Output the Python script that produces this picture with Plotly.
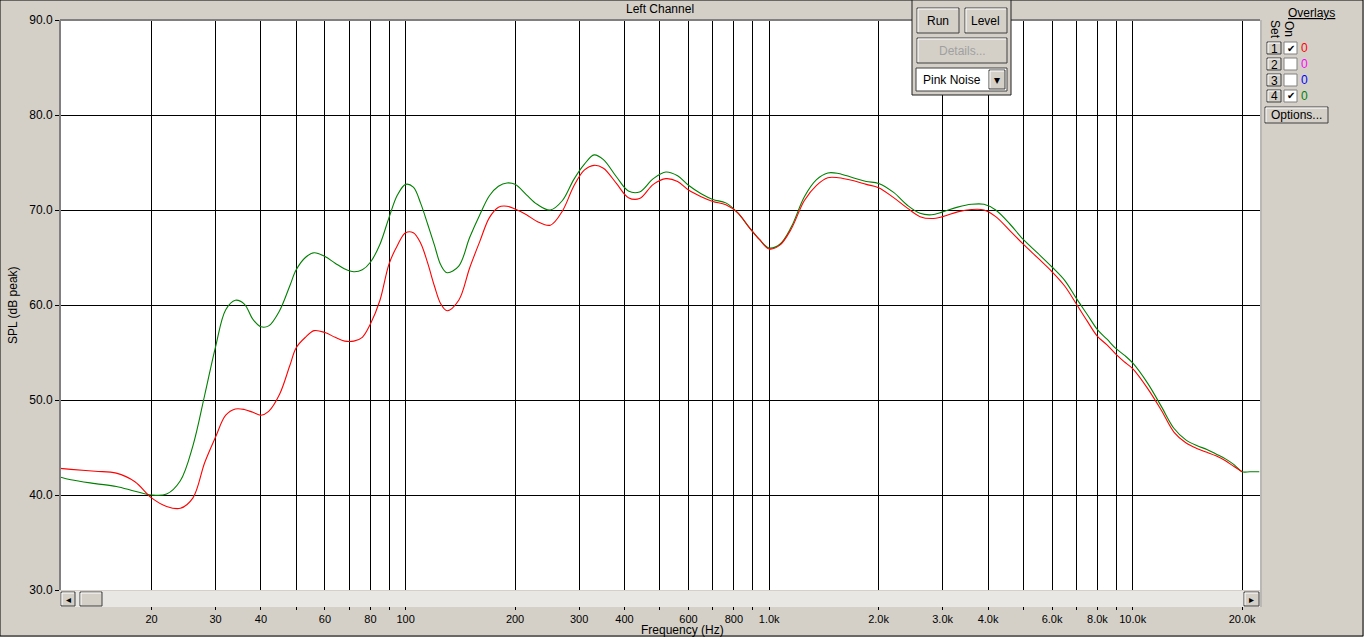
import numpy as np
import plotly.graph_objects as go

# ---------- data ----------
freq_green = [11.2, 12, 14, 16, 18, 20, 22, 24, 26, 28, 30, 32, 34, 36, 38, 40, 42, 45, 48, 50,
              53, 56, 60, 64, 68, 72, 76, 80, 85, 90, 95, 100, 105, 110, 115, 120, 125, 130, 140,
              150, 160, 170, 180, 190, 200, 215, 230, 250, 270, 290, 310, 330, 350, 380, 410, 440,
              480, 520, 560, 600, 650, 700, 760, 820, 880, 940, 1000, 1070, 1150, 1250, 1350, 1450,
              1550, 1700, 1850, 2000, 2200, 2400, 2600, 2800, 3000, 3300, 3600, 3900, 4200, 4600,
              5000, 5500, 6000, 6500, 7000, 7500, 8000, 8500, 9000, 9500, 10000, 11000, 12000,
              13000, 14000, 15000, 16000, 17000, 18000, 19000, 20000, 21000, 22300]
spl_green = [41.9, 41.6, 41.2, 40.9, 40.4, 40.0, 40.1, 41.5, 45.2, 50.5, 55.6, 59.5, 60.5, 60.1,
             58.5, 57.7, 57.8, 59.4, 62.0, 63.7, 65.0, 65.5, 65.1, 64.4, 63.8, 63.5, 63.7, 64.5,
             66.4, 69.2, 71.6, 72.7, 72.4, 70.7, 68.5, 66.3, 64.2, 63.4, 64.1, 67.1, 69.5, 71.5,
             72.5, 72.85, 72.7, 71.6, 70.6, 70.0, 71.0, 73.2, 74.8, 75.8, 75.3, 73.5, 72.0, 71.9,
             73.3, 74.0, 73.6, 72.6, 71.7, 71.1, 70.75, 69.7, 68.2, 66.9, 66.0, 66.4, 68.2, 71.4,
             73.2, 73.9, 73.85, 73.4, 73.0, 72.8, 71.85, 70.5, 69.65, 69.5, 69.8, 70.3, 70.6, 70.6,
             70.0, 68.5, 66.9, 65.4, 64.0, 62.6, 60.7, 59.0, 57.4, 56.4, 55.4, 54.7, 53.9, 51.75,
             49.3, 47.0, 45.8, 45.2, 44.8, 44.3, 43.8, 43.2, 42.45, 42.45, 42.45]

freq_red = freq_green[:-2]
spl_red = [42.8, 42.7, 42.5, 42.3, 41.4, 39.7, 38.8, 38.6, 39.7, 43.4, 46.1, 48.4, 49.05, 49.0,
           48.7, 48.4, 48.8, 50.6, 53.6, 55.5, 56.6, 57.3, 57.1, 56.6, 56.2, 56.2, 56.6, 58.0,
           60.5, 64.3, 66.3, 67.6, 67.6, 66.5, 64.4, 62.0, 60.1, 59.4, 60.5, 63.9, 66.7, 69.2,
           70.3, 70.4, 70.1, 69.5, 68.8, 68.4, 69.9, 72.5, 74.2, 74.7, 74.4, 72.8, 71.3, 71.2,
           72.7, 73.3, 73.0, 72.1, 71.4, 70.9, 70.55, 69.7, 68.2, 66.9, 65.9, 66.3, 68.0, 71.0,
           72.6, 73.4, 73.4, 73.1, 72.7, 72.35, 71.3, 70.2, 69.3, 69.1, 69.3, 69.8, 70.05, 70.0,
           69.3, 67.8, 66.4, 64.9, 63.5, 62.0, 60.1, 58.3, 56.7, 55.8, 54.8, 54.0, 53.3, 51.2,
           48.9, 46.6, 45.5, 44.9, 44.5, 44.1, 43.6, 43.0, 42.45]

x_ticks = [20, 30, 40, 50, 60, 70, 80, 90, 100, 200, 300, 400, 500, 600, 700, 800, 900,
           1000, 2000, 3000, 4000, 5000, 6000, 7000, 8000, 9000, 10000, 20000]
x_labels = ['20', '30', '40', '', '60', '', '80', '', '100', '200', '300', '400', '', '600', '',
            '800', '', '1.0k', '2.0k', '3.0k', '4.0k', '', '6.0k', '', '8.0k', '', '10.0k', '20.0k']
y_ticks = [30, 40, 50, 60, 70, 80, 90]
y_labels = ['30.0', '40.0', '50.0', '60.0', '70.0', '80.0', '90.0']

overlay_sets = ['1', '2', '3', '4']
overlay_on = [True, False, False, True]
overlay_colors = ['#ff0000', '#ff00ff', '#0000ff', '#008000']

# ---------- geometry helpers (pixels -> paper) ----------
W, H = 1364, 637
L, R, T, B = 60, 1260, 20, 590
GRAY = '#d4d0c8'
FONT = 'Liberation Sans'


def px(x):
    return (x - L) / (R - L)


def py(y):
    return (B - y) / (B - T)


shapes = []
annotations = []


def rect(x0, y0, x1, y1, fill=None, line='black', width=1):
    shapes.append(dict(type='rect', xref='paper', yref='paper', layer='above',
                       x0=px(x0), x1=px(x1), y0=py(y1), y1=py(y0),
                       fillcolor=fill if fill else 'rgba(0,0,0,0)',
                       line=dict(color=line, width=width if line else 0)))


def hline(x0, x1, y, color, width=1):
    shapes.append(dict(type='line', xref='paper', yref='paper', layer='above',
                       x0=px(x0), x1=px(x1), y0=py(y), y1=py(y),
                       line=dict(color=color, width=width)))


def vline(x, y0, y1, color, width=1):
    shapes.append(dict(type='line', xref='paper', yref='paper', layer='above',
                       x0=px(x), x1=px(x), y0=py(y0), y1=py(y1),
                       line=dict(color=color, width=width)))


def text(x, y, s, size=12, color='black', anchor='center', angle=0):
    annotations.append(dict(xref='paper', yref='paper', x=px(x), y=py(y), text=s,
                            showarrow=False, xanchor=anchor, yanchor='middle',
                            textangle=angle, font=dict(family=FONT, size=size, color=color)))


def button(x0, y0, x1, y1, label, color='black', size=12):
    rect(x0, y0, x1, y1, fill=GRAY, line='#404040')
    hline(x0 + 1, x1 - 1, y0 + 1, 'white')
    vline(x0 + 1, y0 + 1, y1 - 1, 'white')
    if label:
        text((x0 + x1) / 2, (y0 + y1) / 2 + 0.5, label, size=size, color=color)


# ---------- figure ----------
fig = go.Figure()
fig.add_trace(go.Scatter(x=freq_green, y=spl_green, mode='lines', line_shape='spline',
                         line=dict(color='#008000', width=1.1), hoverinfo='x+y'))
fig.add_trace(go.Scatter(x=freq_red, y=spl_red, mode='lines', line_shape='spline',
                         line=dict(color='#ff0000', width=1.1), hoverinfo='x+y'))

# plot frame
vline(L, T, B, '#808080', 2)
hline(L, R, T, '#808080', 2)
vline(R + 1, T, B + 17, '#a0a0a0', 1)

# horizontal scrollbar (covers tick stems, leaves small marks below)
rect(L, B + 1, R, B + 17, fill='#e9e7e3', line=None)
button(L + 1, B + 2, L + 15, B + 16, '◂', size=10)
button(L + 20, B + 2, L + 42, B + 16, '')
button(R - 16, B + 2, R - 1, B + 16, '▸', size=10)

# window border
rect(0, 0, W - 1, H - 1, line='black')

# titles
text((L + R) / 2, 9, 'Left Channel')
text(682, 629.5, 'Frequency (Hz)', size=12)
text(13, 305, 'SPL (dB peak)', angle=-90)

# control panel
rect(912, 0, 1011, 95, fill=GRAY, line='#202020')
button(917, 8, 959, 33, 'Run')
button(965, 8, 1007, 33, 'Level')
button(917, 38, 1007, 63, 'Details...', color='#a0a0a0')
rect(916, 68, 1007, 91, fill='white', line='#404040')
text(921, 80, 'Pink Noise', anchor='left')
button(989, 70, 1005, 89, '▾', size=12)

# overlays legend
text(1311, 13, '<u>Overlays</u>')
text(1275, 29, 'Set', angle=90)
text(1289, 29, 'On', angle=90)
for i, (s, on, c) in enumerate(zip(overlay_sets, overlay_on, overlay_colors)):
    yc = 48 + i * 16
    button(1267, yc - 6, 1281, yc + 6, s, size=12)
    rect(1284, yc - 6, 1297, yc + 6, fill='white', line='#808080')
    if on:
        text(1290.5, yc, '✔', size=10)
    text(1304, yc, '0', color=c)
button(1265, 107, 1328, 123, 'Options...')

fig.update_layout(
    width=W, height=H, autosize=False,
    margin=dict(l=L, r=W - R, t=T, b=H - B),
    paper_bgcolor=GRAY, plot_bgcolor='white',
    showlegend=False,
    font=dict(family=FONT, size=12, color='black'),
    shapes=shapes, annotations=annotations,
    xaxis=dict(type='log', range=[np.log10(11.2), np.log10(22400)],
               tickvals=x_ticks, ticktext=x_labels, automargin=False,
               showgrid=True, gridcolor='black', gridwidth=1,
               ticks='outside', ticklen=19, tickcolor='black', tickwidth=1,
               tickfont=dict(size=11), zeroline=False, showline=False, fixedrange=True),
    yaxis=dict(range=[30, 90], tickvals=y_ticks, ticktext=y_labels, automargin=False,
               showgrid=True, gridcolor='black', gridwidth=1,
               ticks='outside', ticklen=4, tickcolor='black',
               tickfont=dict(size=12), zeroline=False, showline=False, fixedrange=True),
)

fig.write_html("out.html", config={'displayModeBar': False},
               post_script="document.body.style.margin='0';")
